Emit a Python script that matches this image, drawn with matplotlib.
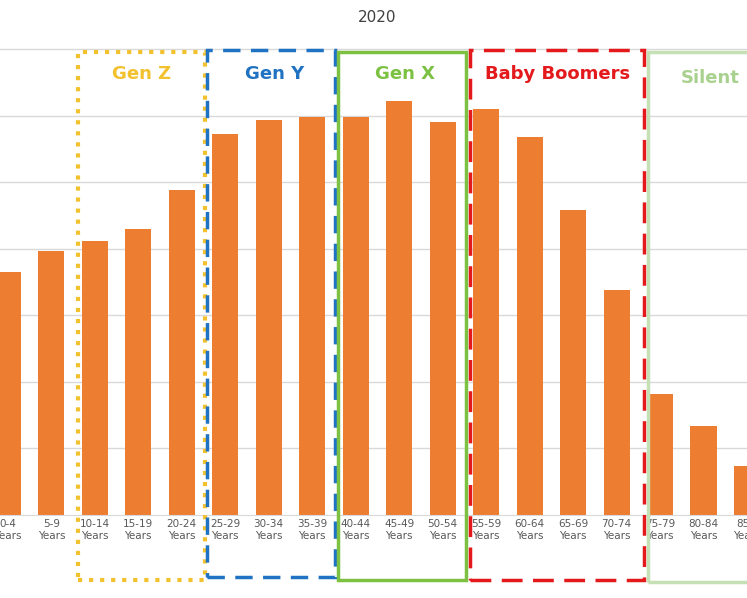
import matplotlib
matplotlib.use("Agg")
import matplotlib.pyplot as plt
from matplotlib.patches import Rectangle

categories = ["0-4","5-9","10-14","15-19","20-24","25-29","30-34","35-39","40-44",
              "45-49","50-54","55-59","60-64","65-69","70-74","75-79","80-84","85+"]
values = [3.65,3.97,4.12,4.30,4.89,5.73,5.94,5.98,5.98,6.23,5.91,6.11,5.68,4.59,3.38,1.82,1.34,0.74]

W, H = 747, 598
fig = plt.figure(figsize=(W/100, H/100), dpi=100)
ax = fig.add_axes([0, 1-515/H, 1, (515-40)/H])
x = list(range(len(categories)))
ax.bar(x, values, width=0.6, color="#ED7D31", zorder=2)
ax.set_xlim(-0.18, 16.87)
ax.set_ylim(0, 7.14)
ax.set_yticks(range(1, 8))
ax.yaxis.grid(True, color="#d9d9d9", lw=1, zorder=0)
ax.tick_params(axis="y", length=0, labelleft=False)
ax.set_xticks(x)
ax.set_xticklabels([c + "\nYears" for c in categories], fontsize=7.5, color="#595959")
ax.tick_params(axis="x", length=0, pad=3)
for s in ax.spines.values():
    s.set_visible(False)
ax.spines["bottom"].set_visible(True)
ax.spines["bottom"].set_color("#d9d9d9")

fig.text(377/W, 1-18/H, "2020", ha="center", va="center", fontsize=11, color="#404040")

def box(x0, x1, y0, y1, color, ls, lw=2.5):
    fig.patches.append(Rectangle((x0/W, 1-y1/H), (x1-x0)/W, (y1-y0)/H, fill=False,
                                 edgecolor=color, linestyle=ls, lw=lw, transform=fig.transFigure))

box(78, 205, 52, 580, "#F2C12E", ":", 3)
box(207, 335, 50, 577, "#1F73C2", (0, (5, 3)))
box(338, 466, 52, 580, "#7DC142", "-")
box(470, 644, 50, 580, "#E3191C", (0, (6, 3)))
box(648, 760, 52, 582, "#C5E0B4", "-")

labels = [("Gen Z", 142, 74, "#F2C12E"), ("Gen Y", 275, 74, "#1F73C2"),
          ("Gen X", 405, 74, "#7DC142"), ("Baby Boomers", 558, 74, "#E3191C"),
          ("Silent", 710, 78, "#A9D18E")]
for t, px, py, c in labels:
    fig.text(px/W, 1-py/H, t, ha="center", va="center", fontsize=13, fontweight="bold", color=c)

fig.savefig("out.png", dpi=100)
